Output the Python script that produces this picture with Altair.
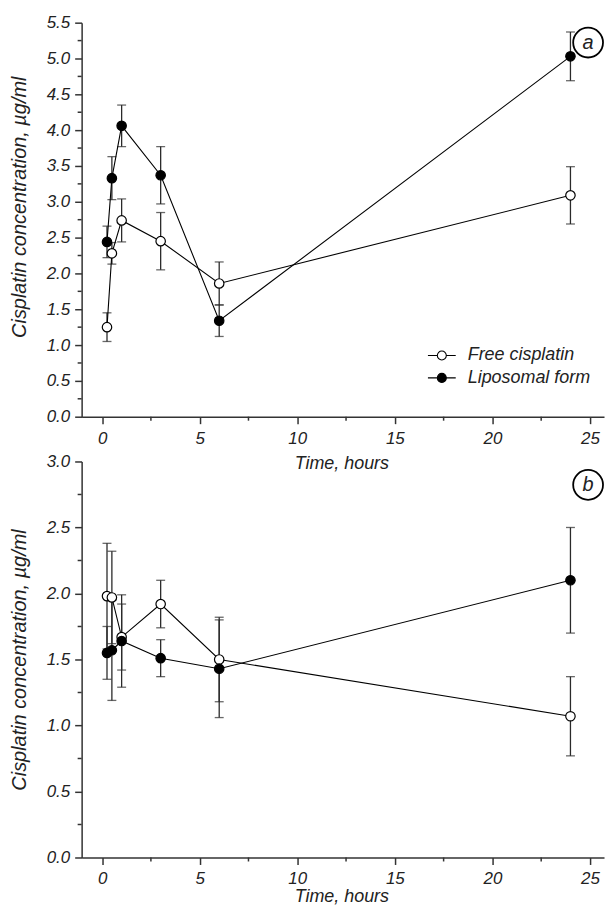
import altair as alt
import pandas as pd

# ---- data ----
time = [0.25, 0.5, 1, 3, 6, 24]
series_names = ["Free cisplatin", "Liposomal form"]

a_free = [1.25, 2.28, 2.74, 2.45, 1.86, 3.09]
a_free_err = [0.20, 0.15, 0.30, 0.40, 0.30, 0.40]
a_lipo = [2.44, 3.33, 4.06, 3.37, 1.34, 5.03]
a_lipo_err = [0.22, 0.30, 0.29, 0.40, 0.22, 0.34]

b_free = [1.98, 1.97, 1.67, 1.92, 1.50, 1.07]
b_free_err = [0.40, 0.35, 0.25, 0.18, 0.32, 0.30]
b_lipo = [1.55, 1.57, 1.64, 1.51, 1.43, 2.10]
b_lipo_err = [0.20, 0.38, 0.35, 0.14, 0.37, 0.40]

x_major = [0, 5, 10, 15, 20, 25]
x_minor = [2.5, 7.5, 12.5, 17.5, 22.5]
a_y_major = [0, 0.5, 1.0, 1.5, 2.0, 2.5, 3.0, 3.5, 4.0, 4.5, 5.0, 5.5]
a_y_minor = [0.25, 0.75, 1.25, 1.75, 2.25, 2.75, 3.25, 3.75, 4.25, 4.75, 5.25]
b_y_major = [0, 0.5, 1.0, 1.5, 2.0, 2.5, 3.0]
b_y_minor = [0.25, 0.75, 1.25, 1.75, 2.25, 2.75]

FONT = "Liberation Sans"
W = 525
LEGEND_PATH = "M-1.27,0H-0.41M0.41,0H1.27M0.41,0A0.41,0.41,0,1,1,-0.41,0A0.41,0.41,0,1,1,0.41,0Z"


def make_df(free, free_err, lipo, lipo_err):
    rows = []
    for s, vals, errs in [(series_names[0], free, free_err), (series_names[1], lipo, lipo_err)]:
        for t, v, e in zip(time, vals, errs):
            rows.append({"series": s, "time": t, "value": v, "lo": v - e, "hi": v + e})
    return pd.DataFrame(rows)


def panel(df, ymax, y_major, y_minor, H, label, show_legend, title_y, lab_pad, ytitle_y, circ_y):
    xscale = alt.Scale(domain=[-1.05, 25.72], nice=False, zero=False)
    yscale = alt.Scale(domain=[0, ymax], nice=False, zero=True)
    xaxis = alt.Axis(values=x_major, title="Time, hours", titleY=title_y,
                     titleBaseline="alphabetic", titleX=261, labelPadding=lab_pad)
    yaxis = alt.Axis(values=y_major, format=".1f",
                     title="Cisplatin concentration, µg/ml", titleX=-62, titleY=ytitle_y,
                     titleBaseline="middle", titleFontSize=20, labelPadding=5)
    X = lambda f: alt.X(f, scale=xscale, axis=xaxis)
    Y = lambda f: alt.Y(f, scale=yscale, axis=yaxis)

    base = alt.Chart(df)
    err = base.mark_rule(color="#2a2a2a", strokeWidth=1.3).encode(
        x=X("time:Q"), y=Y("lo:Q"), y2="hi:Q")
    cap_lo = base.mark_tick(orient="horizontal", size=9, thickness=1.3, color="#2a2a2a").encode(
        x=X("time:Q"), y=Y("lo:Q"))
    cap_hi = base.mark_tick(orient="horizontal", size=9, thickness=1.3, color="#2a2a2a").encode(
        x=X("time:Q"), y=Y("hi:Q"))
    line = base.mark_line(color="black", strokeWidth=1.1).encode(
        x=X("time:Q"), y=Y("value:Q"), detail="series:N")
    if show_legend:
        leg = alt.Legend(orient="none", legendX=350, legendY=322.5, title=None,
                         symbolType=LEGEND_PATH, symbolSize=484,
                         symbolStrokeColor="black", symbolStrokeWidth=1.1,
                         symbolOpacity=1, labelFont=FONT, labelFontSize=18,
                         labelFontStyle="italic", labelColor="#222",
                         labelOffset=14, rowPadding=1.5, padding=0)
    else:
        leg = None
    pts = base.mark_point(shape="circle", size=90, filled=True, stroke="black",
                          strokeWidth=1.2, opacity=1).encode(
        x=X("time:Q"), y=Y("value:Q"),
        fill=alt.Fill("series:N", scale=alt.Scale(domain=series_names, range=["white", "black"]),
                      legend=leg))

    xm = alt.Chart(pd.DataFrame({"m": x_minor})).mark_rule(color="#333", strokeWidth=1.5).encode(
        x=X("m:Q"), y=alt.value(H), y2=alt.value(H + 4))
    ym = alt.Chart(pd.DataFrame({"m": y_minor})).mark_rule(color="#333", strokeWidth=1.5).encode(
        y=Y("m:Q"), x=alt.value(-4), x2=alt.value(0))

    lab = pd.DataFrame({"label": [label]})
    circ = alt.Chart(lab).mark_point(shape="circle", size=900, filled=False, stroke="black",
                                     strokeWidth=1.8, opacity=1).encode(
        x=alt.value(509), y=alt.value(circ_y))
    txt = alt.Chart(lab).mark_text(font=FONT, fontStyle="italic", fontSize=20, color="#222",
                                   baseline="middle", align="center").encode(
        x=alt.value(509), y=alt.value(circ_y), text="label:N")

    return alt.layer(err, cap_lo, cap_hi, line, pts, xm, ym, circ, txt).properties(
        width=W, height=H)


pa = panel(make_df(a_free, a_free_err, a_lipo, a_lipo_err), 5.5, a_y_major, a_y_minor,
           396, "a", True, 52, 7, 185, 20)
pb = panel(make_df(b_free, b_free_err, b_lipo, b_lipo_err), 3.0, b_y_major, b_y_minor,
           398, "b", False, 44.5, 6, 199, 23.5)

chart = alt.vconcat(pa, pb, spacing=45, bounds="flush").resolve_scale(
    x="independent", y="independent", fill="independent").resolve_legend(
    fill="independent").properties(
    padding={"left": 2, "top": 3.5, "right": 0, "bottom": -2}
).configure_view(stroke=None).configure_axis(
    domainColor="#333", domainWidth=1.5, tickColor="#333", tickWidth=1.5, tickSize=7,
    labelFont=FONT, labelFontStyle="italic", labelFontSize=17, labelColor="#222",
    titleFont=FONT, titleFontStyle="italic", titleFontWeight="normal", titleFontSize=18,
    titleColor="#222", grid=False
)

chart.save("out.html", embed_options={"renderer": "svg", "actions": False})
